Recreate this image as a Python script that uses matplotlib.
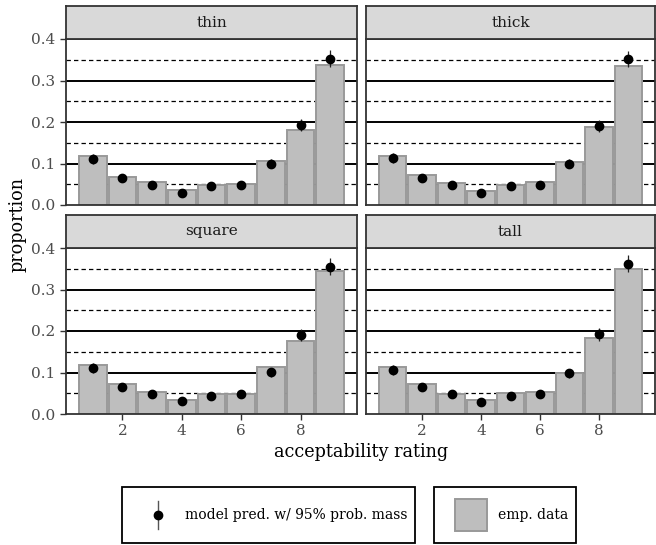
import numpy as np
import matplotlib
matplotlib.use("Agg")
import matplotlib.pyplot as plt
from matplotlib.patches import Rectangle

plt.rcParams['font.family'] = ['DejaVu Serif']

ratings = [1, 2, 3, 4, 5, 6, 7, 8, 9]
panels = ["thin", "thick", "square", "tall"]

emp_thin = [0.118, 0.067, 0.055, 0.037, 0.049, 0.051, 0.105, 0.180, 0.338]
emp_thick = [0.117, 0.073, 0.052, 0.034, 0.047, 0.055, 0.103, 0.187, 0.335]
emp_square = [0.118, 0.072, 0.053, 0.033, 0.047, 0.049, 0.113, 0.175, 0.344]
emp_tall = [0.114, 0.073, 0.049, 0.034, 0.051, 0.052, 0.098, 0.184, 0.349]

pred_thin = [0.110, 0.065, 0.048, 0.029, 0.045, 0.048, 0.099, 0.193, 0.353]
pred_thick = [0.113, 0.065, 0.048, 0.030, 0.045, 0.047, 0.100, 0.191, 0.352]
pred_square = [0.110, 0.064, 0.048, 0.031, 0.044, 0.048, 0.101, 0.191, 0.355]
pred_tall = [0.107, 0.064, 0.047, 0.029, 0.044, 0.047, 0.098, 0.192, 0.362]

# half-width of the 95% interval per rating
pred_halfwidth = [0.012, 0.009, 0.007, 0.006, 0.007, 0.007, 0.011, 0.015, 0.020]

empirical = {"thin": emp_thin, "thick": emp_thick, "square": emp_square, "tall": emp_tall}
predicted = {"thin": pred_thin, "thick": pred_thick, "square": pred_square, "tall": pred_tall}

W, H = 656, 545
fig = plt.figure(figsize=(W / 100, H / 100), dpi=100)

def frac(x0, y0, x1, y1):
    return [x0 / W, 1 - y1 / H, (x1 - x0) / W, (y1 - y0) / H]

cols = [(66, 357), (366, 655)]
rows = [(6, 39, 205), (215, 248, 414)]

frame_col = "#333333"
for i, name in enumerate(panels):
    r, c = divmod(i, 2)
    x0, x1 = cols[c]
    s0, p0, p1 = rows[r]
    ax = fig.add_axes(frac(x0, p0, x1, p1))
    st = fig.add_axes(frac(x0, s0, x1, p0))

    # reference lines
    for y in [0.1, 0.2, 0.3]:
        ax.axhline(y, color="black", lw=1.4, zorder=0)
    for y in [0.05, 0.15, 0.25, 0.35]:
        ax.axhline(y, color="black", lw=0.9, ls=(0, (3.5, 2.5)), zorder=0)

    ax.bar(ratings, empirical[name], width=0.93, color="#bebebe",
           edgecolor="#999999", linewidth=1.4, zorder=2)
    ax.errorbar(ratings, predicted[name], yerr=pred_halfwidth, fmt="o",
                color="black", ms=6, elinewidth=0.9, ecolor="#222222",
                capsize=0, zorder=3)

    ax.set_xlim(0.1, 9.9)
    ax.set_ylim(0, 0.4)
    for sp in ax.spines.values():
        sp.set_color(frame_col)
        sp.set_linewidth(1.3)
    ax.set_xticks([2, 4, 6, 8])
    ax.set_yticks([0.0, 0.1, 0.2, 0.3, 0.4])
    ax.tick_params(colors=frame_col, labelcolor="#4d4d4d", labelsize=11,
                   length=4, width=1.0)
    if r == 0:
        ax.tick_params(axis="x", labelbottom=False, length=0)
    if c == 1:
        ax.tick_params(axis="y", labelleft=False, length=0)
    ax.set_yticklabels(["0.0", "0.1", "0.2", "0.3", "0.4"])

    st.set_facecolor("#d9d9d9")
    st.set_xticks([])
    st.set_yticks([])
    for sp in st.spines.values():
        sp.set_color(frame_col)
        sp.set_linewidth(1.3)
    st.text(0.5, 0.5, name, ha="center", va="center", fontsize=11,
            color="#1a1a1a", transform=st.transAxes)

fig.text(361 / W, 1 - 452 / H, "acceptability rating", ha="center",
         va="center", fontsize=12.7)
fig.text(18 / W, 1 - 225 / H, "proportion", ha="center", va="center",
         rotation=90, fontsize=12.7)

# legend drawn in pixel coordinates (top of this strip is y=460)
lg = fig.add_axes([0, 0, 1, 85 / H])
lg.set_xlim(0, W)
lg.set_ylim(85, 0)
lg.axis("off")
lg.add_patch(Rectangle((122, 27), 293, 56, fill=False, ec="black", lw=1.3,
                       clip_on=False))
lg.add_patch(Rectangle((434, 27), 142, 56, fill=False, ec="black", lw=1.3,
                       clip_on=False))
lg.plot([158, 158], [41, 69], color="#555555", lw=1.0, clip_on=False)
lg.plot([158], [55], "o", color="black", ms=6, clip_on=False)
lg.text(185, 55, "model pred. w/ 95% prob. mass", va="center", ha="left",
        fontsize=10)
lg.add_patch(Rectangle((455, 39), 32, 32, fc="#bebebe", ec="#999999", lw=1.4,
                       clip_on=False))
lg.text(498, 55, "emp. data", va="center", ha="left", fontsize=10)

fig.savefig("out.png", dpi=100)
